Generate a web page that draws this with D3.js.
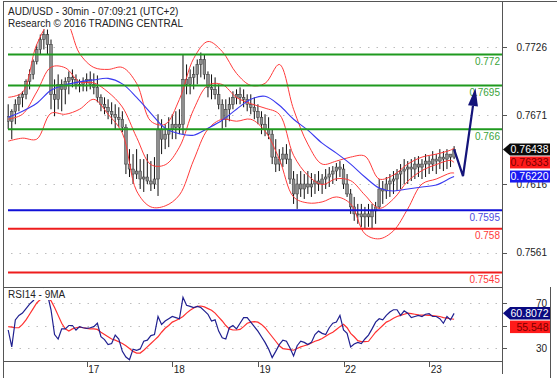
<!DOCTYPE html>
<html><head><meta charset="utf-8">
<script src="https://cdn.jsdelivr.net/npm/d3@7/dist/d3.min.js"></script>
<style>
html,body{margin:0;padding:0;background:#fff;}
svg{display:block;font-family:"Liberation Sans",Arial,sans-serif;}
</style></head><body>
<svg id="c" width="557" height="378"></svg>
<script>
// ---------- DATA ----------
const titleLines = ["AUD/USD - 30min - 07:09:21 (UTC+2)", "Research \u00A9 2016 TRADING CENTRAL"];
const dayTicks = [22, 46, 70, 94, 118];
const dayLabels = ["17", "18", "19", "22", "23"];
const priceTicks = [0.7726, 0.7671, 0.7616, 0.7561];
const rsiTicks = [70, 50, 30];
const rsiTickLabels = ["70", "", "30"];

const levelValues = [0.772, 0.7695, 0.766, 0.7595, 0.758, 0.7545];
const levelLabels = ["0.772", "0.7695", "0.766", "0.7595", "0.758", "0.7545"];
const levelKinds = ["res", "res", "res", "pivot", "sup", "sup"];

const firstOpen = 0.7670;
const barHigh = [0.7680,0.7676,0.7684,0.7688,0.76904,0.7700,0.7708,0.7716,0.7728,0.7736,
0.7740,0.7740,0.7732,0.7700,0.7704,0.7700,0.77016,0.77064,0.7708,0.7704,
0.7700,0.77016,0.77048,0.77064,0.77048,0.77032,0.7688,0.76856,0.7684,0.76816,
0.7680,0.76776,0.76744,0.7664,0.7644,0.7640,0.7644,0.7636,0.7636,0.7640,
0.76344,0.76376,0.7672,0.7668,0.7664,0.76696,0.7672,0.76744,0.7676,0.7720,
0.7712,0.7708,0.77104,0.7716,0.77216,0.7720,0.77064,0.7704,0.77016,0.7696,
0.7684,0.7684,0.76856,0.76904,0.7692,0.76936,0.7692,0.7688,0.7688,0.76856,
0.7680,0.76744,0.7672,0.76696,0.7660,0.7652,0.7644,0.76456,0.7648,0.7644,
0.76264,0.7624,0.76264,0.7624,0.76264,0.76248,0.7624,0.76264,0.7624,0.7628,
0.76296,0.76304,0.76328,0.76344,0.7632,0.7624,0.7612,0.76056,0.7600,0.7600,
0.75976,0.7600,0.7600,0.76016,0.7620,0.76184,0.76216,0.7624,0.76264,0.7628,
0.7632,0.7636,0.76344,0.7636,0.76376,0.76384,0.7636,0.7640,0.76384,0.76424,
0.7640,0.7644,0.76424,0.7644,0.7640,0.76464];
const barLow = [0.7660,0.7652,0.7664,0.76744,0.76776,0.7684,0.7692,0.7700,0.7712,0.7720,
0.7724,0.7720,0.7676,0.76704,0.7676,0.76744,0.7680,0.7688,0.76936,0.7692,
0.76896,0.76904,0.76904,0.7692,0.7688,0.76816,0.76744,0.7672,0.7668,0.7664,
0.7660,0.76616,0.76576,0.7624,0.76216,0.7616,0.7620,0.7612,0.76096,0.7616,
0.76104,0.7612,0.76064,0.7640,0.7644,0.76456,0.7652,0.7652,0.7656,0.7656,
0.7688,0.7688,0.7692,0.7696,0.77016,0.7700,0.76856,0.7684,0.7684,0.7676,
0.7660,0.76616,0.76664,0.7676,0.7680,0.7680,0.76776,0.76744,0.7672,0.7668,
0.7664,0.7656,0.76544,0.7652,0.7632,0.76256,0.76264,0.76296,0.7632,0.7616,
0.7600,0.7596,0.76056,0.7604,0.7608,0.76056,0.7608,0.76104,0.7608,0.7612,
0.76136,0.7616,0.76184,0.76216,0.7612,0.76056,0.7592,0.75864,0.7584,0.75816,
0.7580,0.75816,0.7580,0.7584,0.7596,0.7600,0.7604,0.76056,0.7608,0.76104,
0.7612,0.7616,0.7616,0.76184,0.7620,0.76216,0.7620,0.76216,0.7624,0.76264,
0.7624,0.7628,0.76264,0.7628,0.76296,0.7636];
const barClose = [0.76664,0.76744,0.7680,0.76856,0.7688,0.76984,0.7704,0.77144,0.7724,0.7732,
0.7736,0.7728,0.7688,0.7684,0.7696,0.7692,0.76984,0.77016,0.7700,0.7696,
0.7696,0.76984,0.7700,0.7696,0.76936,0.76856,0.7680,0.76776,0.76744,0.7672,
0.76696,0.7668,0.76616,0.7632,0.7628,0.7624,0.76264,0.7620,0.76216,0.76184,
0.7616,0.7620,0.7660,0.7652,0.7656,0.7660,0.7664,0.76616,0.7664,0.7700,
0.7696,0.77016,0.7704,0.7712,0.7716,0.7704,0.76936,0.7692,0.7688,0.7680,
0.7668,0.7676,0.7680,0.76856,0.7688,0.76856,0.7684,0.7680,0.76776,0.76744,
0.76696,0.7664,0.7660,0.7656,0.76376,0.7632,0.7636,0.7640,0.7636,0.7620,
0.7608,0.7616,0.7612,0.7616,0.76136,0.7616,0.76184,0.7616,0.7620,0.76216,
0.7624,0.76264,0.76296,0.7628,0.7616,0.7608,0.75976,0.7592,0.7592,0.75896,
0.7592,0.75896,0.75944,0.75976,0.7612,0.76104,0.7616,0.76184,0.7620,0.7624,
0.76264,0.7628,0.76296,0.7628,0.7632,0.76296,0.7632,0.76344,0.7632,0.7636,
0.76344,0.76376,0.7636,0.7640,0.76376,0.76438];

const bandBars = [0,4,8,12,16,20,24,28,32,36,40,44,48,52,56,60,64,68,72,76,80,84,88,92,96,100,104,108,112,116,120,124,125];
const bbUpper = [0.76856,0.76896,0.7728,0.77464,0.77472,0.77208,0.77096,0.7708,0.77096,0.76968,0.76664,0.7664,0.7684,0.77168,0.77304,0.77224,0.77048,0.76952,0.76968,0.7712,0.7676,0.7648,0.7632,0.76344,0.76376,0.76384,0.7620,0.76232,0.7632,0.76376,0.7640,0.76432,0.76448];
const bbMiddle = [0.7668,0.7672,0.76899,0.77098,0.77093,0.7698,0.76972,0.76898,0.76778,0.76534,0.76316,0.76314,0.76456,0.76759,0.76953,0.76959,0.76855,0.76805,0.76769,0.7672,0.7639,0.7623,0.76156,0.76202,0.76187,0.76071,0.75965,0.7604,0.76182,0.76268,0.76316,0.7635,0.76333];
const bbLower = [0.76504,0.76528,0.7652,0.76728,0.7672,0.7676,0.7684,0.7672,0.76568,0.76104,0.75976,0.75984,0.76072,0.76352,0.766,0.7668,0.76664,0.7668,0.76584,0.7636,0.76056,0.76008,0.76016,0.76056,0.76,0.7576,0.7572,0.75784,0.7596,0.7616,0.762,0.76248,0.76248];
const maBlue = [0.76696,0.76744,0.76808,0.76912,0.76956,0.7698,0.76996,0.77008,0.76964,0.76856,0.76728,0.76608,0.76564,0.76552,0.76608,0.76672,0.7676,0.7684,0.76864,0.76792,0.7668,0.76592,0.76488,0.76408,0.7632,0.76216,0.76128,0.76104,0.7612,0.76136,0.76152,0.76208,0.7622];

const rsi = [46,31,55,59,61,65,69,72,76,80,
82,78,64,42,38,47,47,50,50,46,
49,48,47.5,48,49,52,40,37.5,33,34,
41.5,38,27,22,19.5,29,28,29,36,37,
41,42,58,51,54,56,58,57,56,75,
68,67,66,67,66,63,60,54,55,45,
39,38,48,50,47,52,57,57,53,49,
45,40,35,29,21.5,27,33,37,36,30,
23,32,36,35,33,35,42,45,43,42,
48,52,53,59,46,43,31,33.5,35,34,
38,41.5,47,53,56,55,59,62,64,64,
59,63,61,57,58,59,58,60,60.5,58,
58,56,52,58,55,60.8072];
const rsiMA = [49,48.5,48,48,51,55,60,65,70,73,
74,74,72,66,59,52,47,45,47,48,
48.5,48,47.5,47,47,46.5,44,42,40,38,
37,35.5,34,32,29.5,27,25.5,25.5,28,31,
34,37,40,44,47.5,50,53,54.5,56,58,
61,63.5,65.5,67,67.3,66.5,65,63.5,61,57.5,
54,50,47,46,46,46.5,49,52,53,53.4,
53,51,48,44,40,36,32,29.5,29,28.5,
28,29.5,31,32,33,34.5,36,37,38.5,40.5,
42.5,44,46.5,49,51,48,43,40,36.5,35.6,
35.6,36,40,44,47,50,53,54.5,56.5,58,
59,60,61,60.5,60,59.5,59.3,59.3,59,58.7,
58.4,58,57,56.5,56,55.548];

const projBars = [125, 127.5, 131];
const projPrice = [0.76438, 0.76224, 0.7693];

const priceFlags = [{v:0.76438, t:"0.76438", kind:"last"}, {v:0.76333, t:"0.76333", kind:"red"}, {v:0.76220, t:"0.76220", kind:"blue"}];
const rsiFlags = [{v:60.8072, t:"60.8072", kind:"navy"}, {v:55.548, t:"55.548", kind:"red"}];

// ---------- LAYOUT ----------
const svg = d3.select("#c");
const plotL = 7, plotR = 502, mainT = 3, mainB = 287, rsiB = 361;
const x = d3.scaleLinear().domain([0, 125]).range([8.2, 454.1]);
const y = d3.scaleLinear().domain([0.7726, 0.7561]).range([47, 252.5]);
const yr = d3.scaleLinear().domain([70, 30]).range([303, 348]);

const colors = {res:"#1f9a1f", pivot:"#1010d8", sup:"#ee1c1c"};
const labelColors = {res:"#3aa33a", pivot:"#4a4ae0", sup:"#ff3a3a"};

const defs = svg.append("defs");
defs.append("clipPath").attr("id","cm").append("rect").attr("x",plotL).attr("y",mainT).attr("width",plotR-plotL).attr("height",mainB-mainT);
defs.append("clipPath").attr("id","cr").append("rect").attr("x",plotL).attr("y",mainB+1).attr("width",plotR-plotL).attr("height",rsiB-mainB-1);

// grid
const grid = svg.append("g").attr("stroke","#bdbdbd").attr("stroke-width",1).attr("stroke-dasharray","1.5,7");
priceTicks.forEach(v => grid.append("line").attr("x1",plotL+4).attr("x2",plotR).attr("y1",Math.round(y(v))+0.5).attr("y2",Math.round(y(v))+0.5));
rsiTicks.forEach(v => grid.append("line").attr("x1",plotL+4).attr("x2",plotR).attr("y1",Math.round(yr(v))+0.5).attr("y2",Math.round(yr(v))+0.5));

// candles
const main = svg.append("g").attr("clip-path","url(#cm)");
const bars = barClose.map((c,i) => ({i, o: i===0 ? firstOpen : barClose[i-1], h: barHigh[i], l: barLow[i], c}));
const bw = 2.7;
main.append("g").selectAll("line").data(bars).join("line")
  .attr("x1",d=>x(d.i)).attr("x2",d=>x(d.i))
  .attr("y1",d=>y(d.h)).attr("y2",d=>y(d.l))
  .attr("stroke","#111").attr("stroke-width",1);
main.append("g").selectAll("rect").data(bars).join("rect")
  .attr("x",d=>x(d.i)-bw/2).attr("width",bw)
  .attr("y",d=>Math.min(y(d.o),y(d.c)))
  .attr("height",d=>Math.max(1,Math.abs(y(d.o)-y(d.c))))
  .attr("fill","#8e8e8e").attr("stroke","#333").attr("stroke-width",0.5);

// bands & MA
const bandLine = arr => d3.line().x((d,k)=>x(bandBars[k])).y(d=>y(d)).curve(d3.curveCatmullRom.alpha(0.5))(arr);
[bbUpper, bbMiddle, bbLower].forEach(arr => main.append("path").attr("d",bandLine(arr)).attr("fill","none").attr("stroke","#ff3b3b").attr("stroke-width",1));
main.append("path").attr("d",bandLine(maBlue)).attr("fill","none").attr("stroke","#3a3af0").attr("stroke-width",1.1);

// levels
levelValues.forEach((v,k) => {
  const yy = y(v);
  svg.append("line").attr("x1",plotL+1).attr("x2",plotR).attr("y1",yy).attr("y2",yy)
    .attr("stroke",colors[levelKinds[k]]).attr("stroke-width",2);
  svg.append("text").attr("x",plotR-2).attr("y",yy+10.5).attr("text-anchor","end")
    .attr("font-size",10).attr("fill",labelColors[levelKinds[k]]).text(levelLabels[k]);
});

// projection arrow
const pts = projBars.map((b,k)=>[x(b), y(projPrice[k])]);
const tip = pts[pts.length-1], prev = pts[pts.length-2];
const ang = Math.atan2(tip[1]-prev[1], tip[0]-prev[0]);
const headL = 18, headW = 5;
const base = [tip[0]-headL*Math.cos(ang), tip[1]-headL*Math.sin(ang)];
const linePts = pts.slice(0,-1).concat([base]);
svg.append("path").attr("d",d3.line()(linePts)).attr("fill","none").attr("stroke","#14147a").attr("stroke-width",2.2).attr("stroke-linejoin","miter");
const px = -Math.sin(ang), py = Math.cos(ang);
svg.append("path").attr("d",d3.line()([tip,[base[0]+px*headW,base[1]+py*headW],[base[0]-px*headW,base[1]-py*headW]])+"Z").attr("fill","#14147a");

// title
svg.append("rect").attr("x",5).attr("y",4).attr("width",172).attr("height",25).attr("fill","#fff");
titleLines.forEach((t,k)=>svg.append("text").attr("x",8).attr("y",15+k*11.5).attr("font-size",10).attr("fill","#222").text(t));

// RSI
const rsiG = svg.append("g").attr("clip-path","url(#cr)");
const rl = d3.line().x((d,i)=>x(i)).y(d=>yr(d));
rsiG.append("path").attr("d",rl(rsiMA)).attr("fill","none").attr("stroke","#ff3030").attr("stroke-width",1.2);
rsiG.append("path").attr("d",rl(rsi)).attr("fill","none").attr("stroke","#202090").attr("stroke-width",1.2);
svg.append("rect").attr("x",5).attr("y",289).attr("width",60).attr("height",11).attr("fill","#fff");
svg.append("text").attr("x",8).attr("y",298).attr("font-size",10).attr("fill","#222").text("RSI14 - 9MA");

// frame & axes
const ax = svg.append("g").attr("stroke","#555").attr("stroke-width",1).attr("shape-rendering","crispEdges");
ax.append("line").attr("x1",3).attr("x2",557).attr("y1",1.5).attr("y2",1.5);
ax.append("line").attr("x1",3.5).attr("x2",3.5).attr("y1",1.5).attr("y2",378);
ax.append("line").attr("x1",plotR).attr("x2",plotR).attr("y1",1.5).attr("y2",374);
ax.append("line").attr("x1",3).attr("x2",plotR).attr("y1",mainB).attr("y2",mainB);
ax.append("line").attr("x1",3).attr("x2",plotR).attr("y1",rsiB).attr("y2",rsiB);
ax.append("line").attr("x1",550.5).attr("x2",550.5).attr("y1",mainB).attr("y2",378);
dayTicks.forEach(d=>ax.append("line").attr("x1",Math.round(x(d))).attr("x2",Math.round(x(d))).attr("y1",rsiB).attr("y2",rsiB+6));
priceTicks.forEach(v=>ax.append("line").attr("x1",plotR).attr("x2",plotR+5).attr("y1",Math.round(y(v))).attr("y2",Math.round(y(v))));
rsiTicks.forEach(v=>ax.append("line").attr("x1",plotR).attr("x2",plotR+5).attr("y1",Math.round(yr(v))).attr("y2",Math.round(yr(v))));

dayTicks.forEach((d,k)=>svg.append("text").attr("x",x(d)+1.5).attr("y",373).attr("font-size",10).attr("fill","#222").text(dayLabels[k]));
priceTicks.forEach(v=>svg.append("text").attr("x",547).attr("y",y(v)+3.5).attr("text-anchor","end").attr("font-size",10).attr("fill","#222").text(v.toFixed(4)));
rsiTicks.forEach((v,k)=>{ if (rsiTickLabels[k]) svg.append("text").attr("x",547).attr("y",yr(v)+3.5).attr("text-anchor","end").attr("font-size",10).attr("fill","#222").text(rsiTickLabels[k]); });

// flags
function drawFlags(list, scale, h) {
  let prevBottom = -1e9;
  list.forEach(f => {
    let cy = scale(f.v);
    let top = Math.max(cy - h/2, prevBottom + 1);
    cy = top + h/2;
    prevBottom = top + h;
    const fill = {last:"#0a0a0a", red:"#ff1a1a", blue:"#1a1af0", navy:"#0a0a80"}[f.kind];
    const tcol = f.kind === "red" ? "#7a0000" : "#fff";
    if (f.kind === "last" || f.kind === "navy") {
      svg.append("path").attr("d",`M${plotR+1},${cy} L${plotR+8},${top} L550,${top} L550,${top+h} L${plotR+8},${top+h} Z`).attr("fill",fill);
    } else {
      svg.append("rect").attr("x",plotR+8).attr("y",top).attr("width",550-plotR-8).attr("height",h).attr("fill",fill);
    }
    svg.append("text").attr("x",548.5).attr("y",cy+3.7).attr("text-anchor","end").attr("font-size",10.5).attr("fill",tcol).text(f.t);
  });
}
drawFlags(priceFlags, y, 12);
drawFlags(rsiFlags, yr, 12.5);
</script></body></html>
